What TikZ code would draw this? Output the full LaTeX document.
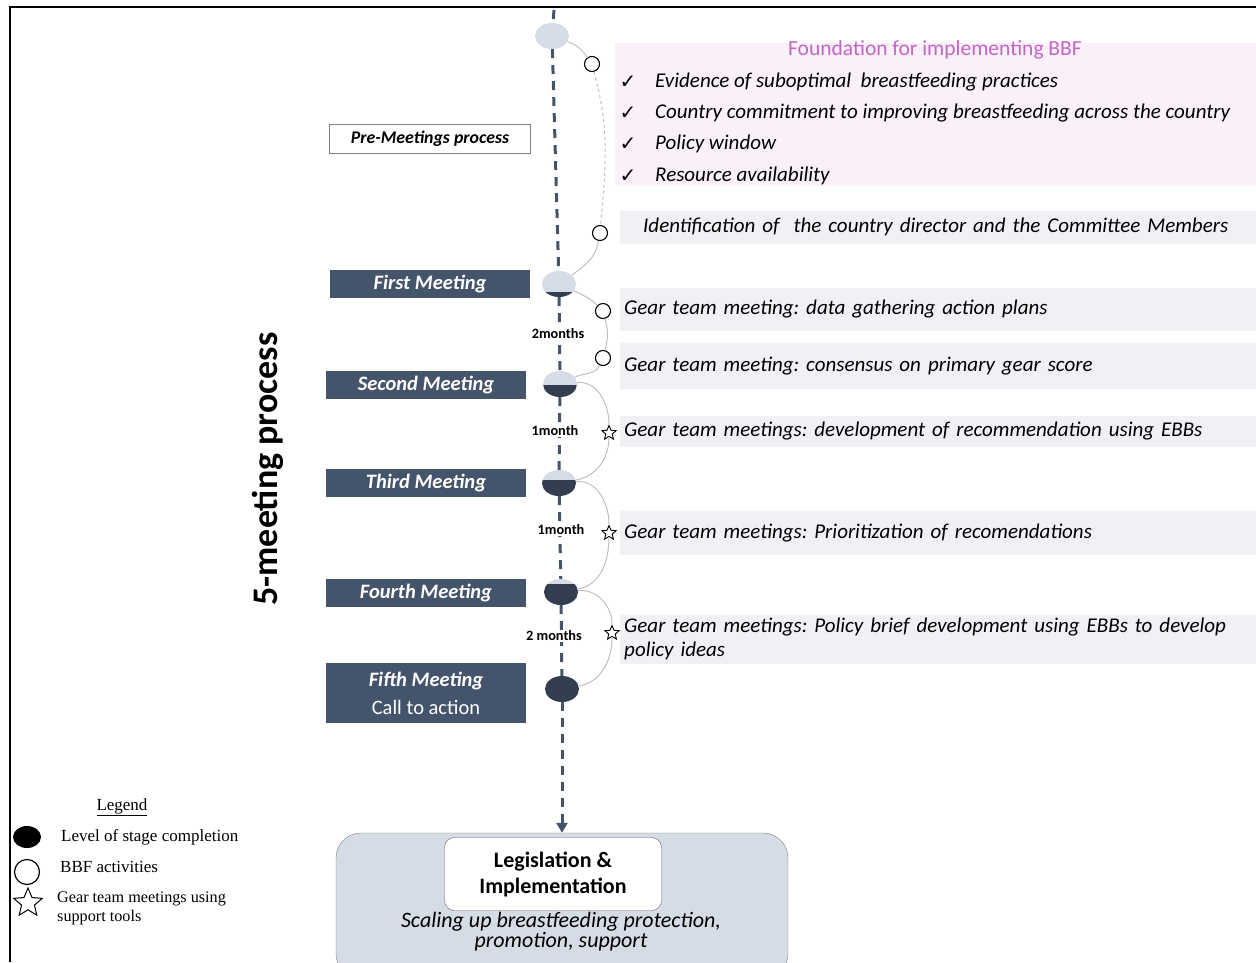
\documentclass[tikz,border=0pt]{standalone}
\usepackage{fontspec}
\setmainfont{Carlito}
\newfontfamily\legendfont{Liberation Serif}
\newfontfamily\symbfont{DejaVu Sans}
\usetikzlibrary{shapes.geometric,arrows.meta}
\definecolor{slate}{HTML}{44546A}
\definecolor{ink}{HTML}{333F50}
\definecolor{mist}{HTML}{D6DCE5}
\definecolor{bandgray}{HTML}{F0F1F5}
\definecolor{bandpink}{HTML}{F9F0F8}
\definecolor{orchid}{HTML}{C566C5}
\definecolor{arcgray}{HTML}{BFBFBF}
\tikzset{level/.style={path picture={\fill[ink] (path picture bounding box.south west) rectangle ++(40,-#1);}}}
\frenchspacing

\begin{document}
\begin{tikzpicture}[x=1pt,y=-1pt]
        \tikzstyle{meeting}=[fill=slate,text=white,minimum width=200pt,minimum height=28pt,inner sep=0pt,font=\fontsize{20.5}{23}\selectfont\bfseries\itshape]
        \tikzstyle{stage}=[ellipse,fill=mist,minimum width=34pt,minimum height=26pt,inner sep=0pt]
        \tikzstyle{spine}=[draw=slate,line width=3pt,dash pattern=on 9pt off 7pt]
        \tikzstyle{gap}=[fill=white,inner sep=1pt,font=\fontsize{14.3}{16}\selectfont\bfseries]
        \tikzstyle{bbf}=[circle,draw,fill=white,line width=1.1pt,minimum size=15pt,inner sep=0pt]
        \tikzstyle{tool}=[star,star points=5,star point ratio=2.2,draw,fill=white,line width=0.9pt,minimum size=15pt,inner sep=0pt]
        \tikzstyle{arc}=[draw=arcgray,line width=1pt]
        \tikzstyle{band}=[fill=bandgray,anchor=west,text width=640pt,align=left,inner xsep=4pt,inner ysep=0pt,font=\fontsize{21}{24}\selectfont\itshape]
        \tikzstyle{item}=[anchor=west,inner sep=0pt,font=\fontsize{21}{24}\selectfont\itshape]
        \tikzstyle{legendtext}=[anchor=west,inner sep=0pt,font=\legendfont\fontsize{17}{19}\selectfont]
        \useasboundingbox (0,0) rectangle (1256,962);
        \clip (0,0) rectangle (1256,962);
       % frame
       \draw[line width=2pt] (10,962) -- (10,7) -- (1256,7);
       % foundation block
       \node[fill=bandpink,anchor=north west,minimum width=650pt,minimum height=143pt] (found) at (615,43) {};
       \node[text=orchid,font=\fontsize{21.5}{24}\selectfont] (foundtitle) at (935,50) {Foundation for implementing BBF};
       \foreach \y/\txt [count=\i] in {82/Evidence of suboptimal\ \ breastfeeding practices,113/Country commitment to improving breastfeeding across the country,144/Policy window,176/Resource availability}{
         \node[font=\symbfont\fontsize{20}{22}\selectfont] (chk\i) at (628,\y) {✓};
         \node[item] (pre\i) at (655,\y) {\txt};
       }
       \node[band,minimum height=33pt,inner xsep=23pt] (ident) at (620,227) {Identification of\ \ the country director and the Committee Members};
       \node[band,minimum height=43pt] (g1) at (620,309) {Gear team meeting: data gathering action plans};
       \node[band,minimum height=46pt] (g2) at (620,366) {Gear team meeting: consensus on primary gear score};
       \node[band,minimum height=31pt] (g3) at (620,431) {Gear team meetings: development of recommendation using EBBs};
       \node[band,minimum height=44pt] (g4) at (620,533) {Gear team meetings: Prioritization of recomendations};
       \node[band,minimum height=49pt] (g5) at (620,639) {Gear team meetings: Policy brief development using EBBs to develop\\policy ideas};
       % left side labels
       \node[draw=gray,fill=white,minimum width=201pt,minimum height=29pt,inner sep=0pt,font=\fontsize{17.8}{20}\selectfont\bfseries\itshape] (pre) at (430,139) {Pre-Meetings process};
       \node[meeting] (l1) at (430,284) {First Meeting};
       \node[meeting] (l2) at (426,385) {Second Meeting};
       \node[meeting] (l3) at (426,483) {Third Meeting};
       \node[meeting] (l4) at (426,593) {Fourth Meeting};
       \node[meeting,minimum height=60pt,align=center] (l5) at (426,693) {Fifth Meeting\\[5pt]{\mdseries\upshape Call to action}};
       \node[rotate=90,font=\fontsize{36}{40}\selectfont\bfseries] (title) at (268,469) {5-meeting process};
       % goal
       \node[draw=gray,fill=mist,rounded corners=25pt,minimum width=452pt,minimum height=146pt] (goal) at (562,906) {};
       \node[draw=gray!80!black,fill=white,rounded corners=10pt,minimum width=217pt,minimum height=73pt,align=center,font=\fontsize{22}{26}\selectfont\bfseries] (law) at (553,874) {Legislation \&\\Implementation};
       \node[align=center,inner sep=0pt,font=\fontsize{22}{20}\selectfont\itshape] (scale) at (561,932) {Scaling up breastfeeding protection,\\promotion, support};
       % stages on the spine
       \coordinate (top) at (554,10);
       \node[stage] (c0) at (552,36) {};
       \node[stage,level=5] (m1) at (559,284) {};
       \node[stage,level=12] (m2) at (560,384) {};
       \node[stage,level=16] (m3) at (559,483) {};
       \node[stage,level=21] (m4) at (561,592) {};
       \node[stage,level=27] (m5) at (562,689) {};
       \draw[spine] (top) -- (c0) -- (m1) -- (m2) -- (m3) -- (m4) -- (m5);
       \draw[spine,-{Triangle[length=10pt,width=11pt]}] (m5) -- (goal.north);
       \node[gap] (d1) at (558,334) {2months};
       \node[gap] (d2) at (555,431) {1month};
       \node[gap] (d3) at (561,530) {1month};
       \node[gap] (d4) at (554,636) {2 months};
       % activities
       \node[bbf] (b1) at (592,64) {};
       \node[bbf] (b2) at (600,233) {};
       \node[bbf] (b3) at (603,311) {};
       \node[bbf] (b4) at (603,358) {};
       \node[tool] (s1) at (609,433) {};
       \node[tool] (s2) at (609,533) {};
       \node[tool] (s3) at (612,633) {};
       \path[arc] (c0) to[out=-20,in=125] (b1);
       \path[arc,dashed] (b1) to[out=-75,in=85] (b2);
       \path[arc] (b2) to[out=-100,in=35] (m1);
       \path[arc] (m1) to[out=-25,in=135] (b3);
       \path[arc] (b3) to[out=-75,in=75] (b4);
       \path[arc] (b4) to[out=-115,in=25] (m2);
       \path[arc] (m2) to[out=5,in=90] (s1);
       \path[arc] (s1) to[out=-90,in=10] (m3);
       \path[arc] (m3) to[out=5,in=90] (s2);
       \path[arc] (s2) to[out=-90,in=10] (m4);
       \path[arc] (m4) to[out=5,in=90] (s3);
       \path[arc] (s3) to[out=-90,in=10] (m5);
       % legend
       \node[legendtext,anchor=center] (leg) at (122,807) {\underline{Legend}};
       \node[ellipse,fill=black,minimum width=28pt,minimum height=22pt,inner sep=0pt] (k1) at (27,837) {};
       \node[legendtext] (t1) at (61,837) {Level of stage completion};
       \node[circle,draw,line width=1.2pt,minimum size=25pt,inner sep=0pt] (k2) at (27,872) {};
       \node[legendtext] (t2) at (60,867) {BBF activities};
       \node[star,star points=5,star point ratio=2.2,draw,line width=1pt,minimum size=30pt,inner sep=0pt] (k3) at (28,903) {};
       \node[legendtext,align=left,font=\legendfont\fontsize{16.2}{19}\selectfont] (t3) at (57,908) {Gear team meetings using\\support tools};
      \end{tikzpicture}
\end{document}
